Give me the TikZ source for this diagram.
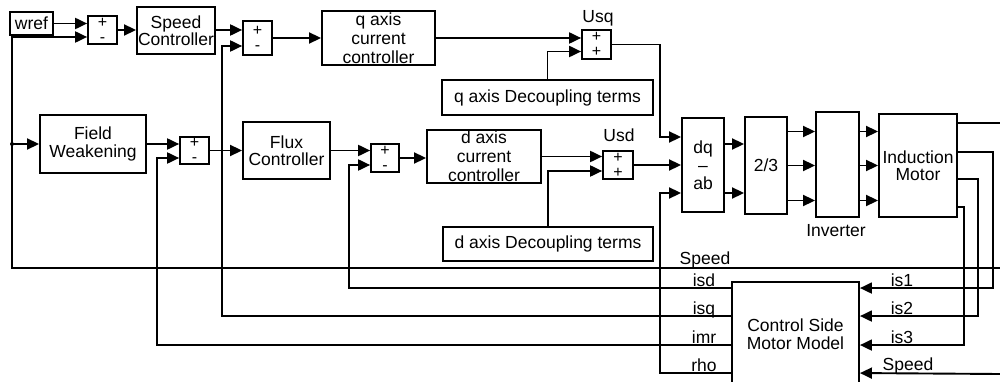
\documentclass[tikz,border=0pt]{standalone}
\usepackage{fontspec}
\setmainfont{Liberation Sans}
\usetikzlibrary{arrows.meta,calc}
\begin{document}
\begin{tikzpicture}[x=1pt,y=-1pt,
  blk/.style={draw,line width=1.9pt,inner sep=0pt,align=center,font=\fontsize{17.5}{17.5}\selectfont},
  blkq/.style={blk,font=\fontsize{17.5}{19}\selectfont},
  sumb/.style={draw,line width=1.7pt,inner sep=0pt,align=center,font=\fontsize{16}{15}\selectfont},
  arr/.style={line width=1.9pt,-{Triangle[length=12pt,width=11pt]}},
  wire/.style={line width=1.9pt},
  lbl/.style={font=\fontsize{17.5}{17.5}\selectfont,inner sep=0pt},
]
\useasboundingbox (0,0) rectangle (1000,382);
\fill[white] (0,0) rectangle (1000,382);

% blocks
\node[blk,minimum width=43pt,minimum height=23pt] (wref) at (31.5,23.5) {wref};
\node[sumb,minimum width=29pt,minimum height=28pt] (sum1) at (102.5,30) {+\\-};
\node[blk,minimum width=78pt,minimum height=47pt] (SC) at (176,30.5) {Speed\\Controller};
\node[sumb,minimum width=29pt,minimum height=34pt] (sum2) at (257.5,38) {+\\-};
\node[blkq,minimum width=113pt,minimum height=54pt] (qcc) at (378.5,38) {q axis\\current\\controller};
\node[sumb,minimum width=29pt,minimum height=29pt] (Usq) at (596.5,44.5) {+\\+};
\node[lbl] at (598,18) {Usq};
\node[blk,minimum width=211pt,minimum height=35pt] (qdec) at (547.5,97.5) {q axis Decoupling terms};

\node[blk,minimum width=106pt,minimum height=58pt] (FW) at (93,144) {Field\\Weakening};
\node[sumb,minimum width=29pt,minimum height=27pt] (sum3) at (194.5,150.5) {+\\-};
\node[blk,minimum width=87pt,minimum height=57pt] (FC) at (286.5,150.5) {Flux\\Controller};
\node[sumb,minimum width=28pt,minimum height=28pt] (sum4) at (385,158) {+\\-};
\node[blkq,minimum width=114pt,minimum height=53pt] (dcc) at (484,156.5) {d axis\\current\\controller};
\node[sumb,minimum width=30pt,minimum height=28pt] (Usd) at (618,165) {+\\+};
\node[lbl] at (619,135) {Usd};
\node[blk,minimum width=210pt,minimum height=34pt] (ddec) at (548,244) {d axis Decoupling terms};

\node[blk,minimum width=42pt,minimum height=94pt,font=\fontsize{17.5}{18}\selectfont] (dqab) at (703,165) {dq\\--\\ab};
\node[blk,minimum width=42pt,minimum height=97pt] (tt) at (766,165.5) {2/3};
\node[blk,minimum width=43pt,minimum height=105pt] (inv) at (837.5,164.5) {};
\node[lbl] at (836,231) {Inverter};
\node[blk,minimum width=78pt,minimum height=103pt,font=\fontsize{17.5}{16.5}\selectfont] (IM) at (918,165.5) {Induction\\Motor};
\node[blk,minimum width=127pt,minimum height=104pt] (CSMM) at (795.5,334) {Control Side\\Motor Model};

% input/output points
\coordinate (s2a) at ($(sum2.west)+(0,-8)$);
\coordinate (s2b) at ($(sum2.west)+(0,8)$);
\coordinate (s3b) at ($(sum3.west)+(0,7.5)$);
\coordinate (s4b) at ($(sum4.west)+(0,7)$);
\coordinate (Usqb) at ($(Usq.west)+(0,7)$);
\coordinate (Usdb) at ($(Usd.west)+(0,6)$);
\coordinate (dq1) at ($(dqab.west)+(0,-28)$);
\coordinate (dq3) at ($(dqab.west)+(0,28)$);
\coordinate (oisd) at ($(CSMM.north west)+(0,7)$);
\coordinate (oisq) at ($(CSMM.north west)+(0,35)$);
\coordinate (oimr) at ($(CSMM.north west)+(0,64)$);
\coordinate (orho) at ($(CSMM.north west)+(0,92)$);
\coordinate (ois1) at ($(CSMM.north east)+(0,7)$);
\coordinate (ois2) at ($(CSMM.north east)+(0,35)$);
\coordinate (ois3) at ($(CSMM.north east)+(0,64)$);
\coordinate (ois4) at ($(CSMM.north east)+(0,92)$);
\coordinate (spR) at (1000,268);
\coordinate (spL) at (12,268);
\coordinate (fwin) at (12,144);
\coordinate (spR2) at (1000,374);
\coordinate (imout) at (1000,123);

% speed path
\draw[arr] (wref.east) -- (sum1.west |- wref.east);
\draw[arr] (spR) -- (spL) |- ($(sum1.west)+(0,7)$);
\fill (fwin) circle (2);
\draw[arr] (fwin) -- (FW.west);
\draw[arr] (sum1.east) -- (SC.west |- sum1.east);
\draw[arr] (SC.east |- s2a) -- (s2a);
\draw[arr] (sum2.east) -- (qcc.west |- sum2.east);
\draw[arr] (qcc.east) -- (Usq.west |- qcc.east);
\draw[arr] (qdec.north) |- (Usqb);
\draw[arr] (Usq.east) -| ($(dq1)+(-21,0)$) -- (dq1);

% flux path
\draw[arr] (FW.east) -- (sum3.west |- FW.east);
\draw[arr] (sum3.east) -- (FC.west |- sum3.east);
\draw[arr] (FC.east) -- (sum4.west |- FC.east);
\draw[arr] (sum4.east) -- (dcc.west |- sum4.east);
\draw[arr] (dcc.east) -- (Usd.west |- dcc.east);
\draw[arr] (ddec.north) |- (Usdb);
\draw[arr] (Usd.east) -- (dqab.west |- Usd.east);

% feedbacks
\draw[arr] (oisd) -| ($(s4b)+(-21,0)$) -- (s4b);
\draw[arr] (oisq) -| ($(s2b)+(-20,0)$) -- (s2b);
\draw[arr] (oimr) -| ($(s3b)+(-22,0)$) -- (s3b);
\draw[arr] (orho) -| ($(dq3)+(-21,0)$) -- (dq3);

% power path
\draw[arr] ($(dqab.east)+(0,-21)$) coordinate (pa) -- (pa -| tt.west);
\draw[arr] ($(dqab.east)+(0,28)$) coordinate (pb) -- (pb -| tt.west);
\foreach \dy in {-34,0,35}{
  \draw[arr] ($(tt.east)+(0,\dy)$) coordinate (pc) -- (pc -| inv.west);
  \draw[arr] ($(inv.east)+(0,\dy+1)$) coordinate (pd) -- (pd -| IM.west);
}
\draw[wire] ($(IM.east)+(0,-42.5)$) -- (imout |- {$(IM.east)+(0,-42.5)$});
\draw[arr] ($(IM.east)+(0,-13.5)$) -| ($(ois1)+(133,0)$) -- (ois1);
\draw[arr] ($(IM.east)+(0,13.5)$) -| ($(ois2)+(118,0)$) -- (ois2);
\draw[arr] ($(IM.east)+(0,41.5)$) -| ($(ois3)+(104,0)$) -- (ois3);
\draw[arr] (spR2) -- (ois4);

% labels
\node[lbl,anchor=base] at (705,264) {Speed};
\node[lbl,anchor=base] at (704,286) {isd};
\node[lbl,anchor=base] at (704,314) {isq};
\node[lbl,anchor=base] at (704,343) {imr};
\node[lbl,anchor=base] at (704,371) {rho};
\node[lbl,anchor=base] at (902,286) {is1};
\node[lbl,anchor=base] at (902,314) {is2};
\node[lbl,anchor=base] at (902,343) {is3};
\node[lbl,anchor=base] at (908,370) {Speed};
\end{tikzpicture}
\end{document}
